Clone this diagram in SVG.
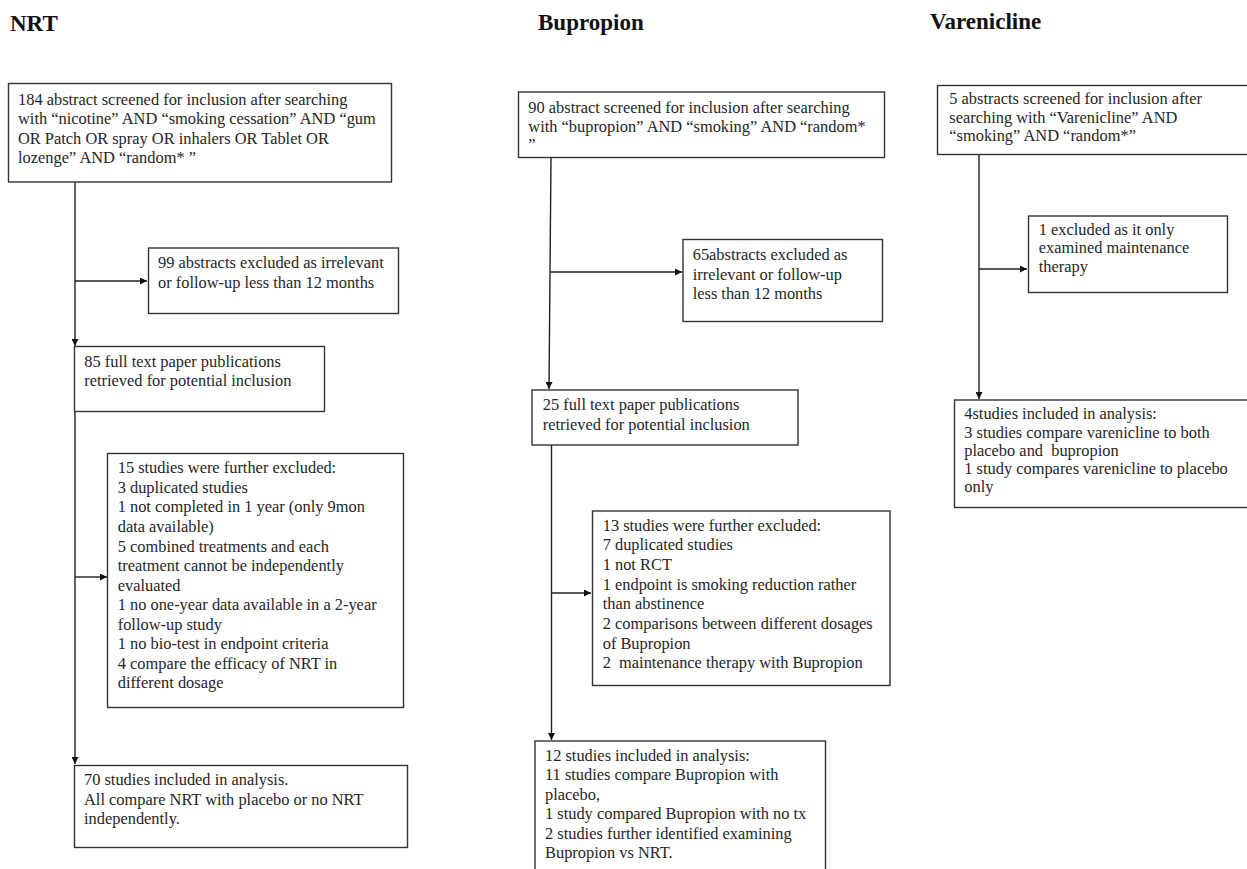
<svg xmlns="http://www.w3.org/2000/svg" width="1247" height="869" viewBox="0 0 1247 869">
<style>
.box{fill:#fff;stroke:#333;stroke-width:1.4}
.t{font-family:"Liberation Serif","Times New Roman",serif;font-size:16.4px;fill:#262626}
.h{font-family:"Liberation Serif","Times New Roman",serif;font-size:23px;font-weight:bold;fill:#111}
.c{fill:none;stroke:#222;stroke-width:1.4}
</style>
<defs>
<marker id="ah" viewBox="0 0 10 10" refX="10" refY="5" markerWidth="7" markerHeight="7" markerUnits="userSpaceOnUse" orient="auto">
<path d="M0,0 L10,5 L0,10 z" fill="#111"/>
</marker>
</defs>
<rect width="1247" height="869" fill="#fff"/>

<g id="titles">
<text class="h" x="10" y="31">NRT</text>
<text class="h" x="538" y="30">Bupropion</text>
<text class="h" x="930" y="29">Varenicline</text>
</g>

<g id="connectors">
<path class="c" d="M75,182 V346" marker-end="url(#ah)"/>
<path class="c" d="M75,281 H147" marker-end="url(#ah)"/>
<path class="c" d="M75,411 V764" marker-end="url(#ah)"/>
<path class="c" d="M75,577 H107" marker-end="url(#ah)"/>
<path class="c" d="M551,157 L549,389" marker-end="url(#ah)"/>
<path class="c" d="M550.5,272 H682" marker-end="url(#ah)"/>
<path class="c" d="M551.5,445 V740" marker-end="url(#ah)"/>
<path class="c" d="M551.5,593 H591" marker-end="url(#ah)"/>
<path class="c" d="M979,154 V399" marker-end="url(#ah)"/>
<path class="c" d="M979,269 H1027" marker-end="url(#ah)"/>
</g>

<g id="nrt-search">
<rect class="box" x="8.5" y="83.5" width="383" height="98.5"/>
<text class="t" x="18" y="105">184 abstract screened for inclusion after searching<tspan x="18" y="124.3">with “nicotine” AND “smoking cessation” AND “gum</tspan><tspan x="18" y="143.5">OR Patch OR spray OR inhalers OR Tablet OR</tspan><tspan x="18" y="162.7">lozenge” AND “random* ”</tspan></text>
</g>

<g id="nrt-excluded1">
<rect class="box" x="148.5" y="248" width="250" height="65.5"/>
<text class="t" x="158" y="268.3">99 abstracts excluded as irrelevant<tspan x="158" y="288.3">or follow-up less than 12 months</tspan></text>
</g>

<g id="nrt-fulltext">
<rect class="box" x="74.5" y="346.5" width="250" height="65"/>
<text class="t" x="84.3" y="366.7">85 full text paper publications<tspan x="84.3" y="385.7">retrieved for potential inclusion</tspan></text>
</g>

<g id="nrt-excluded2">
<rect class="box" x="107.5" y="453.5" width="296" height="254"/>
<text class="t" x="117.7" y="473.3">15 studies were further excluded:<tspan x="117.7" dy="19.55">3 duplicated studies</tspan><tspan x="117.7" dy="19.55">1 not completed in 1 year (only 9mon</tspan><tspan x="117.7" dy="19.55">data available)</tspan><tspan x="117.7" dy="19.55">5 combined treatments and each</tspan><tspan x="117.7" dy="19.55">treatment cannot be independently</tspan><tspan x="117.7" dy="19.55">evaluated</tspan><tspan x="117.7" dy="19.55">1 no one-year data available in a 2-year</tspan><tspan x="117.7" dy="19.55">follow-up study</tspan><tspan x="117.7" dy="19.55">1 no bio-test in endpoint criteria</tspan><tspan x="117.7" dy="19.55">4 compare the efficacy of NRT in</tspan><tspan x="117.7" dy="19.55">different dosage</tspan></text>
</g>

<g id="nrt-included">
<rect class="box" x="74.5" y="765.5" width="333" height="82"/>
<text class="t" x="84" y="785">70 studies included in analysis.<tspan x="84" y="804.7">All compare NRT with placebo or no NRT</tspan><tspan x="84" y="824.3">independently.</tspan></text>
</g>

<g id="bup-search">
<rect class="box" x="518.5" y="92" width="366" height="65.5"/>
<text class="t" x="528.3" y="113.3">90 abstract screened for inclusion after searching<tspan x="528.3" y="131.7">with “bupropion” AND “smoking” AND “random*</tspan><tspan x="528.3" y="150">”</tspan></text>
</g>

<g id="bup-excluded1">
<rect class="box" x="683" y="239.5" width="199.5" height="82"/>
<text class="t" x="692.7" y="260">65abstracts excluded as<tspan x="692.7" y="279.7">irrelevant or follow-up</tspan><tspan x="692.7" y="299.3">less than 12 months</tspan></text>
</g>

<g id="bup-fulltext">
<rect class="box" x="532" y="390" width="266" height="55"/>
<text class="t" x="542.7" y="410">25 full text paper publications<tspan x="542.7" y="430">retrieved for potential inclusion</tspan></text>
</g>

<g id="bup-excluded2">
<rect class="box" x="592.5" y="511" width="297.5" height="174.5"/>
<text class="t" x="602.7" y="530.7" xml:space="preserve">13 studies were further excluded:<tspan x="602.7" dy="19.67">7 duplicated studies</tspan><tspan x="602.7" dy="19.67">1 not RCT</tspan><tspan x="602.7" dy="19.67">1 endpoint is smoking reduction rather</tspan><tspan x="602.7" dy="19.67">than abstinence</tspan><tspan x="602.7" dy="19.67">2 comparisons between different dosages</tspan><tspan x="602.7" dy="19.67">of Bupropion</tspan><tspan x="602.7" dy="19.67">2  maintenance therapy with Bupropion</tspan></text>
</g>

<g id="bup-included">
<rect class="box" x="535" y="741" width="290.5" height="140"/>
<text class="t" x="545" y="760.7">12 studies included in analysis:<tspan x="545" dy="19.5">11 studies compare Bupropion with</tspan><tspan x="545" dy="19.5">placebo,</tspan><tspan x="545" dy="19.5">1 study compared Bupropion with no tx</tspan><tspan x="545" dy="19.5">2 studies further identified examining</tspan><tspan x="545" dy="19.5">Bupropion vs NRT.</tspan></text>
</g>

<g id="var-search">
<rect class="box" x="937.5" y="85.5" width="320" height="69"/>
<text class="t" x="949.3" y="104.3">5 abstracts screened for inclusion after<tspan x="949.3" y="122.7">searching with “Varenicline” AND</tspan><tspan x="949.3" y="140.7">“smoking” AND “random*”</tspan></text>
</g>

<g id="var-excluded">
<rect class="box" x="1028.5" y="216" width="199" height="76.5"/>
<text class="t" x="1038.7" y="235">1 excluded as it only<tspan x="1038.7" y="253.3">examined maintenance</tspan><tspan x="1038.7" y="271.7">therapy</tspan></text>
</g>

<g id="var-included">
<rect class="box" x="954.5" y="400" width="303" height="107.5"/>
<text class="t" x="964.3" y="419.3" xml:space="preserve">4studies included in analysis:<tspan x="964.3" dy="18.25">3 studies compare varenicline to both</tspan><tspan x="964.3" dy="18.25">placebo and  bupropion</tspan><tspan x="964.3" dy="18.25">1 study compares varenicline to placebo</tspan><tspan x="964.3" dy="18.25">only</tspan></text>
</g>
</svg>
